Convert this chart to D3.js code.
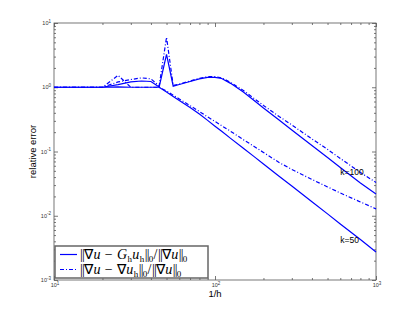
<!DOCTYPE html>
<html>
<head>
<meta charset="utf-8">
<script src="https://cdn.jsdelivr.net/npm/d3@7"></script>
<style>
body { margin:0; background:#fff; }
svg { display:block; }
text { -webkit-font-smoothing: antialiased; }
</style>
</head>
<body>
<svg id="chart"></svg>
<script>
// sample points 1/h
var hInv = [10, 15, 20, 25, 30, 35, 40, 45, 50, 55, 60, 70, 80, 90, 100, 110, 125, 150, 175, 200, 250, 300, 400, 500, 600, 800, 1000];

// k=50
var k50Gh = [1.0, 1.0, 1.0, 1.01, 1.0, 1.0, 1.0, 1.0, 0.845, 0.719, 0.623, 0.485, 0.384, 0.305, 0.248, 0.206, 0.160, 0.112, 0.0832, 0.0640, 0.0413, 0.0290, 0.0165, 0.0107, 0.00745, 0.00426, 0.00273];
var k50Grad = [1.0, 1.0, 1.0, 1.53, 1.0, 1.0, 1.0, 1.0, 0.876, 0.753, 0.658, 0.517, 0.419, 0.345, 0.294, 0.252, 0.206, 0.153, 0.120, 0.0967, 0.0675, 0.0526, 0.0367, 0.0281, 0.0226, 0.0164, 0.0128];

// k=100
var k100Gh = [1.0, 1.0, 1.0, 1.10, 1.21, 1.25, 1.23, 1.01, 3.26, 1.04, 1.105, 1.23, 1.35, 1.42, 1.42, 1.37, 1.15, 0.845, 0.623, 0.476, 0.310, 0.216, 0.124, 0.0808, 0.0565, 0.0324, 0.0218];
var k100Grad = [1.0, 1.0, 1.0, 1.21, 1.32, 1.40, 1.35, 1.05, 6.0, 1.07, 1.12, 1.25, 1.38, 1.46, 1.46, 1.40, 1.19, 0.892, 0.669, 0.521, 0.351, 0.259, 0.157, 0.108, 0.0780, 0.0472, 0.0330];

var xMajor = [10, 100, 1000];
var yMajor = [0.001, 0.01, 0.1, 1, 10];
var curveLabels = [{text:"k=100", x:600, y:0.043}, {text:"k=50", x:600, y:0.0038}];
var legendItems = ["Gh", "grad"];

var W = 415, H = 316;
var margins = {left:54, right:39, top:23, bottom:36};

var svg = d3.select("#chart").attr("width", W).attr("height", H);

var xScale = d3.scaleLog().domain([10, 1000]).range([margins.left, W - margins.right]);
var yScale = d3.scaleLog().domain([0.001, 10]).range([H - margins.bottom, margins.top]);

// minor tick values
var minors = function(lo, hi)
{
    var out = [];
    for (var p = lo; p < hi; p *= 10)
        for (var m = 2; m <= 9; m++) out.push(p * m);
    return out;
}
var xMinor = minors(10, 1000);
var yMinor = minors(0.001, 10);

var axisColor = "#555";
var plotW = W - margins.left - margins.right;
var plotH = H - margins.top - margins.bottom;

var drawAxis = function(axisFn, scale, values, size, transform)
{
    var g = svg.append("g")
        .attr("transform", transform)
        .call(axisFn(scale).tickValues(values).tickSize(size).tickFormat(""));
    g.select(".domain").remove();
    g.selectAll("line").attr("stroke", axisColor).attr("stroke-width", 0.8);
}

var bottomT = "translate(0," + (H - margins.bottom) + ")";
var topT = "translate(0," + margins.top + ")";
var leftT = "translate(" + margins.left + ",0)";
var rightT = "translate(" + (W - margins.right) + ",0)";

drawAxis(d3.axisBottom, xScale, xMajor, -4, bottomT);
drawAxis(d3.axisBottom, xScale, xMinor, -2, bottomT);
drawAxis(d3.axisTop, xScale, xMajor, -4, topT);
drawAxis(d3.axisTop, xScale, xMinor, -2, topT);
drawAxis(d3.axisLeft, yScale, yMajor, -4, leftT);
drawAxis(d3.axisLeft, yScale, yMinor, -2, leftT);
drawAxis(d3.axisRight, yScale, yMajor, -4, rightT);
drawAxis(d3.axisRight, yScale, yMinor, -2, rightT);

svg.append("rect")
    .attr("x", margins.left).attr("y", margins.top)
    .attr("width", plotW).attr("height", plotH)
    .attr("fill", "none").attr("stroke", axisColor).attr("stroke-width", 0.8);

// tick labels 10^n
var powLabel = function(sel, v)
{
    var e = Math.round(Math.log10(v));
    sel.append("tspan").text("10");
    sel.append("tspan").attr("dy", -2.5).attr("font-size", 4.5).text(e);
}

xMajor.forEach(function(v)
{
    var t = svg.append("text")
        .attr("x", xScale(v) + 1).attr("y", H - margins.bottom + 7)
        .attr("text-anchor", "middle")
        .attr("font-family", "Liberation Sans, sans-serif")
        .attr("font-size", 5.5).attr("fill", "#333");
    powLabel(t, v);
});

yMajor.forEach(function(v)
{
    var t = svg.append("text")
        .attr("x", margins.left - 3).attr("y", yScale(v) + 2)
        .attr("text-anchor", "end")
        .attr("font-family", "Liberation Sans, sans-serif")
        .attr("font-size", 5.5).attr("fill", "#333");
    powLabel(t, v);
});

svg.append("text")
    .attr("x", xScale(100)).attr("y", H - margins.bottom + 17)
    .attr("text-anchor", "middle")
    .attr("font-family", "Liberation Sans, sans-serif")
    .attr("font-size", 9.5).attr("fill", "#000")
    .text("1/h");

svg.append("text")
    .attr("transform", "translate(36," + (margins.top + plotH / 2) + ") rotate(-90)")
    .attr("text-anchor", "middle")
    .attr("font-family", "Liberation Sans, sans-serif")
    .attr("font-size", 9.5).attr("fill", "#000")
    .text("relative error");

// curves
var blue = "#0000ff";
var dashDot = "4,2,1,2";
var line = d3.line()
    .x(function(d){ return xScale(d[0]); })
    .y(function(d){ return yScale(d[1]); });

var series = [
    {vals:k50Gh, dash:null},
    {vals:k50Grad, dash:dashDot},
    {vals:k100Gh, dash:null},
    {vals:k100Grad, dash:dashDot}
];

series.forEach(function(s)
{
    svg.append("path")
        .datum(d3.zip(hInv, s.vals))
        .attr("d", line)
        .attr("fill", "none")
        .attr("stroke", blue)
        .attr("stroke-width", 1.2)
        .attr("stroke-dasharray", s.dash);
});

curveLabels.forEach(function(c)
{
    svg.append("text")
        .attr("x", xScale(c.x)).attr("y", yScale(c.y))
        .attr("font-family", "Liberation Sans, sans-serif")
        .attr("font-size", 8.5).attr("fill", "#000")
        .text(c.text);
});

// legend
var leg = svg.append("g").attr("transform", "translate(55,246)");
leg.append("rect")
    .attr("width", 153).attr("height", 32)
    .attr("fill", "#fff").attr("stroke", "#666").attr("stroke-width", 1.5);

// parts: [text, style]; n = normal, i = italic, s = subscript, b = norm bars
var mathText = function(g, y, parts)
{
    var t = g.append("text")
        .attr("x", 25).attr("y", y)
        .attr("font-family", "Liberation Serif, serif")
        .attr("font-size", 14).attr("letter-spacing", 0.4).attr("fill", "#000");
    parts.forEach(function(p)
    {
        var ts = t.append("tspan").text(p[0]).attr("y", y);
        if (p[1] == "s") ts.attr("font-size", 9).attr("y", y + 2.5);
        if (p[1] == "i") ts.attr("font-style", "italic");
        if (p[1] == "b") ts.text("||").attr("letter-spacing", -0.8);
    });
}

legendItems.forEach(function(item, i)
{
    var y = 8.5 + i * 15;
    leg.append("line")
        .attr("x1", 5).attr("x2", 22).attr("y1", y).attr("y2", y)
        .attr("stroke", blue).attr("stroke-width", 1.2)
        .attr("stroke-dasharray", i == 1 ? dashDot : null);
    if (item == "Gh")
        mathText(leg, y + 4.5, [["", "b"], ["\u2207", "n"], ["u", "i"], ["  \u2212  ", "n"], ["G", "i"], ["h", "s"], ["u", "i"], ["h", "s"], ["", "b"], ["0", "s"], ["/", "n"], ["", "b"], ["\u2207", "n"], ["u", "i"], ["", "b"], ["0", "s"]]);
    else
        mathText(leg, y + 4.5, [["", "b"], ["\u2207", "n"], ["u", "i"], ["  \u2212  ", "n"], ["\u2207", "n"], ["u", "i"], ["h", "s"], ["", "b"], ["0", "s"], ["/", "n"], ["", "b"], ["\u2207", "n"], ["u", "i"], ["", "b"], ["0", "s"]]);
});
</script>
</body>
</html>
